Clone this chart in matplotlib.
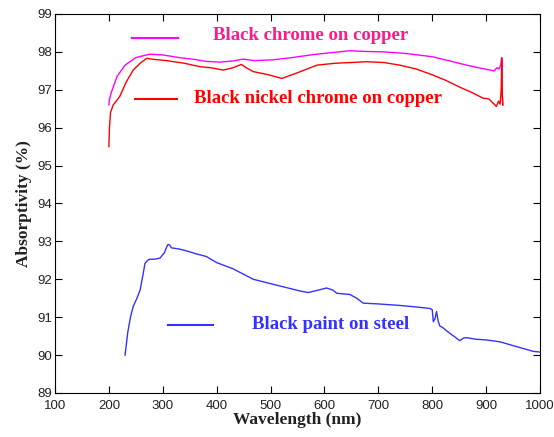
import numpy as np
import matplotlib
matplotlib.use("Agg")
import matplotlib.pyplot as plt

# black chrome on copper (magenta)
wl_chrome = [200, 201, 205, 215, 230, 250, 276, 300, 330, 360, 380, 406, 430, 449, 470,
             504, 540, 580, 620, 647, 680, 709, 750, 801, 830, 864, 890, 907, 915, 920,
             924, 927, 929, 930, 931]
ab_chrome = [96.6, 96.75, 96.95, 97.35, 97.65, 97.85, 97.94, 97.92, 97.85, 97.8, 97.75, 97.73,
             97.76, 97.81, 97.77, 97.79, 97.85, 97.93, 97.99, 98.03, 98.01, 98.0, 97.96,
             97.87, 97.77, 97.65, 97.57, 97.52, 97.5, 97.58, 97.55, 97.65, 97.85, 96.9, 96.6]

# black nickel chrome on copper (red)
wl_nickel = [200, 201, 203, 208, 220, 232, 245, 258, 270, 285, 307, 340, 369, 390, 412,
             430, 446, 455, 468, 495, 521, 550, 586, 620, 650, 678, 710, 740, 770, 801,
             825, 851, 875, 894, 905, 915, 919, 923, 926, 928, 929, 930, 931]
ab_nickel = [95.5, 96.0, 96.4, 96.6, 96.82, 97.2, 97.52, 97.7, 97.83, 97.8, 97.77, 97.7,
             97.61, 97.58, 97.52, 97.58, 97.67, 97.58, 97.48, 97.4, 97.3, 97.45, 97.65,
             97.7, 97.72, 97.74, 97.72, 97.65, 97.55, 97.39, 97.25, 97.07, 96.92, 96.78,
             96.76, 96.62, 96.56, 96.7, 96.62, 97.0, 97.83, 96.9, 96.6]

# black paint on steel (blue)
wl_paint = [230, 235, 240, 245, 252, 258, 263, 267, 272, 276, 285, 295, 303, 308, 310,
            313, 316, 330, 344, 360, 381, 400, 430, 468, 510, 555, 570, 590, 604, 615,
            623, 647, 660, 672, 700, 740, 770, 796, 800, 802, 805, 808, 811, 814, 820,
            833, 840, 851, 858, 864, 880, 900, 926, 950, 970, 987, 1000]
ab_paint = [90.0, 90.6, 91.0, 91.28, 91.5, 91.72, 92.1, 92.42, 92.5, 92.53, 92.53, 92.56,
            92.7, 92.88, 92.92, 92.9, 92.83, 92.8, 92.75, 92.68, 92.6, 92.44, 92.28, 92.0,
            91.85, 91.69, 91.65, 91.72, 91.77, 91.72, 91.63, 91.6, 91.5, 91.37, 91.35,
            91.31, 91.27, 91.23, 91.2, 90.88, 90.95, 91.15, 90.9, 90.77, 90.72, 90.57,
            90.5, 90.38, 90.45, 90.46, 90.42, 90.4, 90.35, 90.25, 90.17, 90.1, 90.08]

xticks = np.arange(100, 1001, 100)
yticks = np.arange(89, 100, 1)

c_chrome = "#ff00ff"
c_nickel = "#ff0000"
c_paint = "#3333ff"

fig = plt.figure(figsize=(5.54, 4.37), dpi=100)
ax = fig.add_axes([0.0993, 0.1007, 0.8754, 0.8673])

ax.plot(wl_chrome, ab_chrome, color=c_chrome, lw=1)
ax.plot(wl_nickel, ab_nickel, color=c_nickel, lw=1)
ax.plot(wl_paint, ab_paint, color=c_paint, lw=1)

ax.set_xlim(100, 1000)
ax.set_ylim(89, 99)
ax.set_xticks(xticks)
ax.set_yticks(yticks)
ax.tick_params(direction="in", top=True, right=True, length=5, labelsize=9.5)
ax.tick_params(axis="x", pad=5)
ax.tick_params(axis="y", pad=2)
for lab in ax.get_xticklabels() + ax.get_yticklabels():
    lab.set_family("Liberation Sans")
    lab.set_color("#222222")

ax.set_xlabel("Wavelength (nm)", family="Liberation Serif", weight="bold", fontsize=12.5,
              labelpad=0, color="#222222")
ax.set_ylabel("Absorptivity (%)", family="Liberation Serif", weight="bold", fontsize=12.5,
              labelpad=4, color="#222222")

# hand-drawn legend entries
tfont = dict(family="Liberation Serif", weight="bold", fontsize=13.5, va="center")
ax.plot([242, 329], [98.37, 98.37], color=c_chrome, lw=1.5)
ax.text(393, 98.42, "Black chrome on copper", color="#ff1a8c", **tfont)
ax.plot([248, 327], [96.75, 96.75], color=c_nickel, lw=1.5)
ax.text(358, 96.77, "Black nickel chrome on copper", color=c_nickel, **tfont)
ax.plot([310, 393], [90.79, 90.79], color=c_paint, lw=1.5)
ax.text(465, 90.82, "Black paint on steel", color=c_paint, **tfont)

fig.savefig("out.png", dpi=100)
